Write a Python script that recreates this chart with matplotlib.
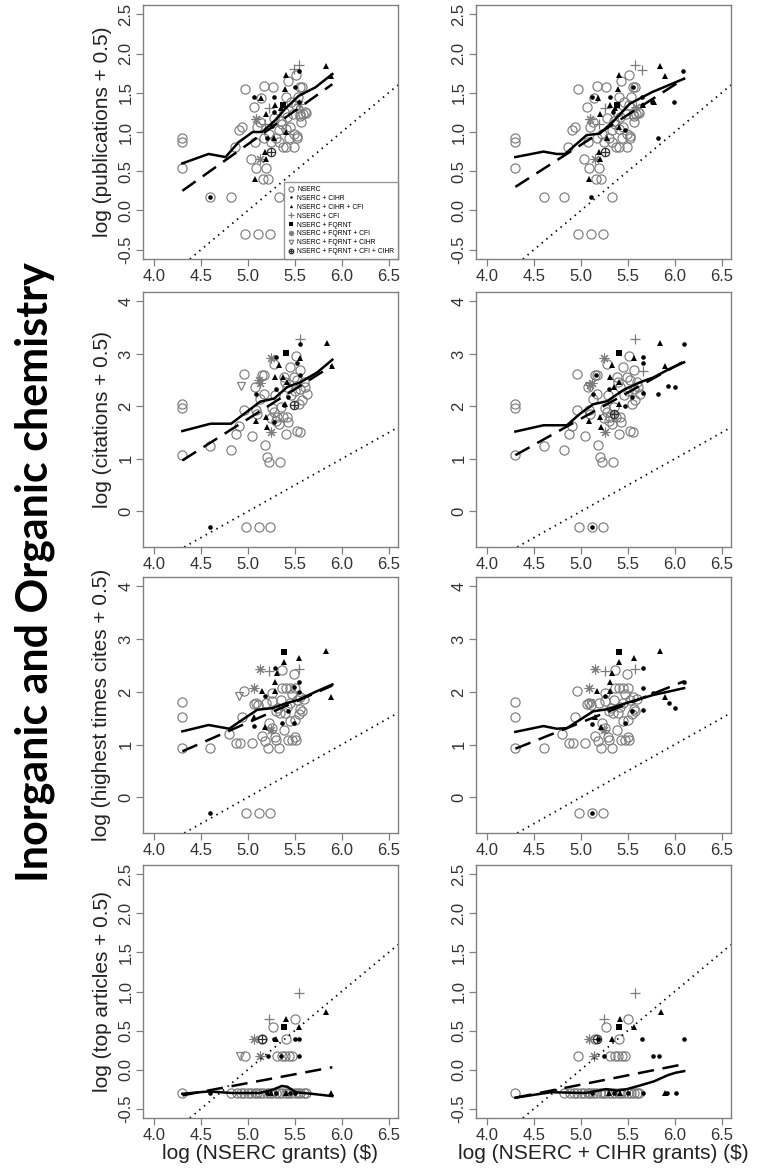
import matplotlib
matplotlib.use('Agg')
import matplotlib.pyplot as plt
from matplotlib.lines import Line2D

plt.rcParams['font.family'] = ['Liberation Sans', 'DejaVu Sans']

# ---------------- data ----------------
group_labels = ['NSERC', 'NSERC + CIHR', 'NSERC + CIHR + CFI', 'NSERC + CFI',
                'NSERC + FQRNT', 'NSERC + FQRNT + CFI', 'NSERC + FQRNT + CIHR',
                'NSERC + FQRNT + CFI + CIHR']
x_ticks = [4.0, 4.5, 5.0, 5.5, 6.0, 6.5]
x_ticklabels = ['4.0', '4.5', '5.0', '5.5', '6.0', '6.5']
y_ticks_small = [-0.5, 0.0, 0.5, 1.0, 1.5, 2.0, 2.5]
y_ticklabels_small = ['-0.5', '0.0', '0.5', '1.0', '1.5', '2.0', '2.5']
y_ticks_big = [0, 1, 2, 3, 4]
y_ticklabels_big = ['0', '1', '2', '3', '4']
row_ylabels = ['log (publications + 0.5)', 'log (citations + 0.5)',
               'log (highest times cites + 0.5)', 'log (top articles + 0.5)']
col_xlabels = ['log (NSERC grants) ($)', 'log (NSERC + CIHR grants) ($)']
side_title = 'Inorganic and Organic chemistry'
ref_intercept = -5.0   # dotted reference line y = x - 5
ref_slope = 1.0

# ---- row 1: publications ----
pub_circ = [(4.3, 0.929), (4.3, 0.875), (4.3, 0.544), (4.6, 0.176), (4.82, 0.176), (4.97, -0.301),
            (5.11, -0.301), (5.23, -0.301), (4.97, 1.544), (4.86, 0.813), (4.9, 1.021), (4.94, 1.061),
            (5.03, 0.653), (5.06, 1.322), (5.07, 0.875), (5.08, 0.544), (5.19, 0.544), (5.16, 0.398),
            (5.21, 0.398), (5.1, 1.061), (5.17, 1.585), (5.14, 1.431), (5.13, 1.130), (5.27, 1.568),
            (5.33, 0.176), (5.37, 0.813), (5.4, 0.813), (5.49, 0.813), (5.41, 1.447), (5.43, 1.653),
            (5.51, 1.732), (5.53, 1.447), (5.55, 1.580), (5.58, 1.580), (5.51, 1.342), (5.55, 1.230),
            (5.61, 1.250), (5.57, 1.130), (5.49, 0.978), (5.52, 0.954), (5.52, 0.929), (5.44, 0.929),
            (5.3, 0.929), (5.33, 0.875), (5.24, 0.875), (5.28, 1.176), (5.35, 1.146), (5.38, 1.250),
            (5.42, 1.190), (5.45, 1.061), (5.4, 1.041), (5.33, 1.021), (5.22, 0.978), (5.17, 0.929),
            (5.46, 1.380), (5.48, 1.230), (5.36, 1.100), (5.56, 1.205), (5.59, 1.230), (5.62, 1.243)]
pub_L_cihr = [(4.6, 0.176), (5.06, 1.447), (5.28, 1.447), (5.28, 1.25), (5.2, 0.929), (5.26, 1.08),
              (5.37, 1.342), (5.5, 1.568), (5.54, 1.78), (5.54, 1.38)]
pub_R_cihr = [(5.11, 0.176), (5.12, 1.447), (5.34, 1.25), (5.55, 1.568), (5.65, 1.447), (5.65, 1.342),
              (5.76, 1.38), (5.82, 0.929), (5.99, 1.38), (6.09, 1.78), (5.47, 1.02), (5.31, 1.447)]
pub_L_tri = [(5.07, 0.398), (5.18, 0.74), (5.19, 0.653), (5.19, 1.23), (5.29, 1.342), (5.4, 1.732),
             (5.39, 1.544), (5.83, 1.845), (5.89, 1.72), (5.28, 0.929), (5.35, 1.301), (5.4, 1.0),
             (5.14, 1.431)]
pub_R_tri = [(5.08, 0.398), (5.19, 0.74), (5.2, 0.653), (5.2, 1.23), (5.31, 1.342), (5.4, 1.732),
             (5.39, 1.544), (5.84, 1.845), (5.9, 1.72), (5.28, 0.929), (5.36, 1.301), (5.41, 1.06),
             (5.18, 1.431), (5.66, 1.342), (5.78, 1.38)]
pub_L_plus = [(5.22, 1.30), (5.09, 1.17), (5.18, 1.10), (5.49, 1.80), (5.54, 1.86)]
pub_R_plus = [(5.26, 1.30), (5.10, 1.17), (5.19, 1.10), (5.58, 1.86), (5.65, 1.79)]
pub_L_sq = [(5.37, 1.34)]
pub_R_sq = [(5.38, 1.34)]
pub_L_ast = [(5.13, 0.653), (5.54, 1.36), (5.09, 1.17)]
pub_R_ast = [(5.15, 0.653), (5.10, 1.17), (5.59, 1.32)]
pub_L_dtri = []
pub_R_dtri = []
pub_L_all = [(5.24, 0.74)]
pub_R_all = [(5.26, 0.74)]
pub_L_smooth_x = [4.3, 4.58, 4.76, 4.9, 5.05, 5.15, 5.29, 5.4, 5.54, 5.72, 5.9]
pub_L_smooth_y = [0.60, 0.72, 0.68, 0.87, 1.0, 1.0, 1.15, 1.30, 1.46, 1.57, 1.74]
pub_L_fit_x = [4.3, 5.9]
pub_L_fit_y = [0.25, 1.61]
pub_R_smooth_x = [4.3, 4.6, 4.74, 4.83, 5.06, 5.2, 5.34, 5.52, 5.76, 6.1]
pub_R_smooth_y = [0.68, 0.75, 0.72, 0.72, 0.96, 0.98, 1.13, 1.36, 1.51, 1.68]
pub_R_fit_x = [4.3, 6.1]
pub_R_fit_y = [0.30, 1.68]

# ---- row 2: citations ----
cit_circ = [(4.3, 2.05), (4.3, 1.96), (4.3, 1.07), (4.6, 1.25), (4.82, 1.17), (4.87, 1.47), (4.9, 1.63),
            (4.96, 2.61), (4.96, 1.93), (5.04, 1.43), (5.07, 2.36), (5.09, 1.93), (5.10, 1.85),
            (5.13, 2.15), (5.15, 2.59), (5.17, 2.59), (5.17, 2.24), (5.18, 1.26), (5.2, 1.04),
            (5.22, 0.94), (5.26, 1.96), (5.24, 1.77), (5.28, 2.81), (5.29, 2.21), (5.31, 1.80),
            (5.33, 1.66), (5.34, 0.94), (5.37, 1.80), (5.38, 2.56), (5.39, 2.46), (5.42, 2.37),
            (5.42, 1.80), (5.43, 1.71), (5.45, 2.75), (5.46, 2.21), (5.41, 1.48), (5.49, 2.56),
            (5.51, 2.96), (5.52, 2.5), (5.52, 1.53), (5.56, 2.69), (5.54, 2.05), (5.56, 2.34),
            (5.58, 2.12), (5.6, 2.46), (5.61, 2.37), (5.63, 2.23), (5.55, 1.52), (5.28, 1.9),
            (5.35, 1.99), (4.98, -0.301), (5.12, -0.301), (5.23, -0.301), (5.3, 1.72), (5.5, 2.3)]
cit_L_cihr = [(4.6, -0.301), (5.09, 2.24), (5.3, 2.95), (5.3, 2.34), (5.52, 2.82), (5.56, 3.19),
              (5.56, 2.59), (5.43, 2.18), (5.40, 3.03), (5.28, 1.71), (5.38, 2.03)]
cit_R_cihr = [(5.12, -0.301), (5.13, 2.23), (5.16, 2.59), (5.41, 3.03), (5.47, 2.0), (5.54, 2.18),
              (5.66, 2.94), (5.66, 2.82), (5.66, 2.25), (5.82, 2.23), (5.93, 2.38), (6.0, 2.37),
              (6.1, 3.19), (5.30, 2.34)]
cit_L_tri = [(5.08, 1.73), (5.19, 1.80), (5.2, 1.61), (5.29, 2.56), (5.33, 2.78), (5.42, 2.46),
             (5.56, 2.93), (5.84, 3.2), (5.9, 2.77), (5.37, 2.56), (5.39, 2.04)]
cit_R_tri = [(5.08, 1.73), (5.2, 1.80), (5.21, 1.61), (5.31, 2.56), (5.33, 2.78), (5.41, 2.46),
             (5.56, 2.93), (5.84, 3.2), (5.9, 2.77), (5.35, 2.36), (5.41, 2.04)]
cit_L_plus = [(5.56, 3.29)]
cit_R_plus = [(5.58, 3.29), (5.66, 2.67)]
cit_L_sq = [(5.40, 3.02)]
cit_R_sq = [(5.41, 3.02)]
cit_L_ast = [(5.24, 2.92), (5.12, 2.5), (5.25, 1.52), (5.13, 2.45)]
cit_R_ast = [(5.25, 2.92), (5.12, 2.45), (5.26, 1.52), (5.1, 2.4)]
cit_L_dtri = [(4.92, 2.38)]
cit_R_dtri = [(5.08, 2.38)]
cit_L_all = [(5.49, 2.03)]
cit_R_all = [(5.35, 1.86)]
cit_L_smooth_x = [4.3, 4.6, 4.82, 4.99, 5.13, 5.28, 5.42, 5.56, 5.74, 5.9]
cit_L_smooth_y = [1.53, 1.67, 1.67, 1.90, 2.09, 2.15, 2.37, 2.46, 2.65, 2.89]
cit_L_fit_x = [4.3, 5.9]
cit_L_fit_y = [0.97, 2.78]
cit_R_smooth_x = [4.3, 4.6, 4.85, 4.99, 5.13, 5.28, 5.45, 5.63, 5.77, 5.95, 6.1]
cit_R_smooth_y = [1.52, 1.64, 1.64, 1.86, 2.04, 2.10, 2.31, 2.46, 2.55, 2.72, 2.84]
cit_R_fit_x = [4.3, 6.1]
cit_R_fit_y = [1.07, 2.86]

# ---- row 3: highest times cited ----
hi_circ = [(4.3, 1.81), (4.3, 1.52), (4.3, 0.93), (4.6, 0.93), (4.8, 1.19), (4.87, 1.02), (4.91, 1.02),
           (4.96, 2.02), (4.94, 1.52), (5.04, 1.02), (5.06, 1.76), (5.08, 1.79), (5.11, 1.75),
           (5.15, 1.17), (5.18, 1.06), (5.21, 0.93), (5.22, 1.41), (5.26, 1.31), (5.29, 1.15),
           (5.30, 1.09), (5.30, 1.63), (5.33, 0.93), (5.36, 2.42), (5.36, 2.07), (5.38, 1.28),
           (5.40, 2.07), (5.42, 1.72), (5.43, 1.09), (5.45, 2.07), (5.45, 1.44), (5.47, 1.09),
           (5.49, 2.34), (5.5, 1.15), (5.5, 1.47), (5.5, 2.07), (5.51, 1.09), (5.52, 1.85),
           (5.54, 1.57), (5.56, 1.67), (5.58, 1.63), (5.26, 1.83), (5.32, 1.70), (5.19, 1.79),
           (5.26, 1.97), (5.35, 1.85), (5.45, 1.79), (4.98, -0.301), (5.12, -0.301), (5.23, -0.301),
           (5.39, 1.60), (5.34, 1.60), (5.47, 1.95), (5.55, 1.90), (5.6, 1.86)]
hi_L_cihr = [(4.6, -0.301), (5.06, 1.36), (5.18, 1.93), (5.29, 2.45), (5.36, 1.41), (5.43, 1.64),
             (5.49, 2.09), (5.54, 2.19), (5.54, 2.0), (5.49, 1.41)]
hi_R_cihr = [(5.12, -0.301), (5.12, 1.39), (5.66, 2.45), (5.66, 2.07), (5.66, 1.66), (5.77, 1.98),
             (5.94, 1.79), (6.0, 1.69), (6.1, 2.19), (5.47, 1.41), (5.54, 1.64), (5.26, 1.93)]
hi_L_tri = [(5.06, 1.53), (5.15, 2.02), (5.18, 1.33), (5.29, 2.19), (5.29, 2.02), (5.31, 2.36),
            (5.38, 2.56), (5.54, 2.64), (5.83, 2.77), (5.89, 1.90)]
hi_R_tri = [(5.17, 2.02), (5.21, 1.33), (5.31, 2.19), (5.31, 2.02), (5.33, 2.36), (5.41, 2.56),
            (5.56, 2.64), (5.84, 2.77), (5.9, 1.91), (5.15, 1.53)]
hi_L_plus = [(5.22, 2.40), (5.54, 2.44)]
hi_R_plus = [(5.26, 2.40), (5.58, 2.44)]
hi_L_sq = [(5.38, 2.75)]
hi_R_sq = [(5.40, 2.75)]
hi_L_ast = [(5.13, 2.44), (5.06, 2.07), (5.24, 1.27)]
hi_R_ast = [(5.15, 2.44), (5.09, 2.07), (5.25, 1.27)]
hi_L_dtri = [(4.90, 1.93)]
hi_R_dtri = [(5.10, 1.78)]
hi_L_all = []
hi_R_all = []
hi_L_smooth_x = [4.3, 4.58, 4.8, 4.94, 5.1, 5.26, 5.4, 5.54, 5.72, 5.9]
hi_L_smooth_y = [1.25, 1.37, 1.30, 1.47, 1.66, 1.69, 1.78, 1.85, 2.0, 2.14]
hi_L_fit_x = [4.3, 5.9]
hi_L_fit_y = [0.87, 2.12]
hi_R_smooth_x = [4.3, 4.6, 4.74, 4.85, 4.99, 5.13, 5.28, 5.49, 5.77, 6.1]
hi_R_smooth_y = [1.24, 1.35, 1.30, 1.31, 1.47, 1.63, 1.67, 1.79, 1.94, 2.07]
hi_R_fit_x = [4.3, 6.1]
hi_R_fit_y = [0.92, 2.20]

# ---- row 4: top articles ----
top_circ = [(4.3, -0.301), (4.82, -0.301), (4.88, -0.301), (4.92, -0.301), (4.96, -0.301),
            (5.0, -0.301), (5.03, -0.301), (5.07, -0.301), (5.1, -0.301), (5.13, -0.301),
            (5.16, -0.301), (5.2, -0.301), (5.23, -0.301), (5.26, -0.301), (5.3, -0.301),
            (5.33, -0.301), (5.36, -0.301), (5.4, -0.301), (5.43, -0.301), (5.46, -0.301),
            (5.5, -0.301), (5.53, -0.301), (5.56, -0.301), (5.6, -0.301), (5.62, -0.301),
            (5.27, 0.544), (5.5, 0.653), (5.41, 0.398), (4.97, 0.176), (5.15, 0.398),
            (5.31, 0.176), (5.36, 0.176), (5.39, 0.176), (5.44, 0.176), (5.47, 0.176)]
top_L_cihr = [(4.6, -0.301), (5.28, 0.398), (5.5, 0.398), (5.54, 0.398), (5.21, 0.176), (5.54, 0.176),
              (5.3, -0.301), (5.45, -0.301), (5.5, -0.301), (5.2, -0.301), (5.35, 0.176)]
top_R_cihr = [(5.12, -0.301), (5.65, 0.398), (6.1, 0.398), (5.77, 0.176), (5.83, 0.176), (5.92, -0.301),
              (6.01, -0.301), (5.66, -0.301), (5.35, -0.301), (5.5, -0.301), (5.25, 0.176), (5.18, 0.398)]
top_L_tri = [(5.4, 0.653), (5.54, 0.544), (5.83, 0.74), (5.89, -0.301), (5.3, 0.398), (5.4, -0.301),
             (5.25, -0.301)]
top_R_tri = [(5.42, 0.653), (5.56, 0.544), (5.85, 0.74), (5.9, -0.301), (5.33, 0.398), (5.42, -0.301),
             (5.3, -0.301)]
top_L_plus = [(5.22, 0.653), (5.54, 0.978)]
top_R_plus = [(5.25, 0.653), (5.58, 0.978)]
top_L_sq = [(5.38, 0.544)]
top_R_sq = [(5.40, 0.544)]
top_L_ast = [(5.06, 0.398), (5.13, 0.176)]
top_R_ast = [(5.09, 0.398), (5.14, 0.176)]
top_L_dtri = [(4.91, 0.176)]
top_R_dtri = []
top_L_all = [(5.15, 0.398)]
top_R_all = [(5.17, 0.398)]
top_L_smooth_x = [4.3, 4.58, 4.83, 5.12, 5.26, 5.36, 5.42, 5.51, 5.68, 5.9]
top_L_smooth_y = [-0.31, -0.28, -0.30, -0.30, -0.26, -0.21, -0.22, -0.29, -0.31, -0.34]
top_L_fit_x = [4.3, 5.9]
top_L_fit_y = [-0.33, 0.03]
top_R_smooth_x = [4.3, 4.68, 5.05, 5.27, 5.38, 5.49, 5.64, 5.78, 5.93, 6.01, 6.1]
top_R_smooth_y = [-0.36, -0.29, -0.30, -0.25, -0.27, -0.25, -0.20, -0.15, -0.07, -0.04, -0.02]
top_R_fit_x = [4.3, 6.1]
top_R_fit_y = [-0.36, 0.07]

# ---------------- styles ----------------
GRAY = '#7c7c7c'
DARK = '#303030'
FRAME = '#808080'
st_circ = dict(marker='o', mfc='none', mec=GRAY, ms=6.6, mew=0.85, ls='none')
st_cihr = dict(marker='o', mfc='black', mec='black', ms=3.3, mew=0, ls='none')
st_tri = dict(marker='^', mfc='black', mec='black', ms=4.3, mew=0, ls='none')
st_plus = dict(marker='+', color=GRAY, ms=7.5, mew=0.9, ls='none')
st_sq = dict(marker='s', mfc='black', mec='black', ms=4.0, mew=0, ls='none')
st_ast = dict(marker=(8, 2, 0), color=GRAY, ms=7.0, mew=0.8, ls='none')
st_dtri = dict(marker='v', mfc='none', mec=GRAY, ms=6.0, mew=0.85, ls='none')
st_all_o = dict(marker='o', mfc='none', mec=DARK, ms=6.0, mew=0.9, ls='none')
st_all_p = dict(marker='+', color=DARK, ms=6.0, mew=0.9, ls='none')

W, H = 763, 1171
fig = plt.figure(figsize=(W / 100, H / 100), dpi=100)

col_x0 = [143 / W, 476 / W]
col_w = 255 / W
rows_px = [(5, 259), (292, 547), (577, 833), (865, 1118)]
row_ylims = [(-0.62, 2.62), (-0.68, 4.18), (-0.68, 4.18), (-0.62, 2.62)]
row_small = [True, False, False, True]

rows_data = [
    ('pub', pub_circ, [pub_L_cihr, pub_R_cihr], [pub_L_tri, pub_R_tri], [pub_L_plus, pub_R_plus],
     [pub_L_sq, pub_R_sq], [pub_L_ast, pub_R_ast], [pub_L_dtri, pub_R_dtri], [pub_L_all, pub_R_all],
     [(pub_L_smooth_x, pub_L_smooth_y), (pub_R_smooth_x, pub_R_smooth_y)],
     [(pub_L_fit_x, pub_L_fit_y), (pub_R_fit_x, pub_R_fit_y)]),
    ('cit', cit_circ, [cit_L_cihr, cit_R_cihr], [cit_L_tri, cit_R_tri], [cit_L_plus, cit_R_plus],
     [cit_L_sq, cit_R_sq], [cit_L_ast, cit_R_ast], [cit_L_dtri, cit_R_dtri], [cit_L_all, cit_R_all],
     [(cit_L_smooth_x, cit_L_smooth_y), (cit_R_smooth_x, cit_R_smooth_y)],
     [(cit_L_fit_x, cit_L_fit_y), (cit_R_fit_x, cit_R_fit_y)]),
    ('hi', hi_circ, [hi_L_cihr, hi_R_cihr], [hi_L_tri, hi_R_tri], [hi_L_plus, hi_R_plus],
     [hi_L_sq, hi_R_sq], [hi_L_ast, hi_R_ast], [hi_L_dtri, hi_R_dtri], [hi_L_all, hi_R_all],
     [(hi_L_smooth_x, hi_L_smooth_y), (hi_R_smooth_x, hi_R_smooth_y)],
     [(hi_L_fit_x, hi_L_fit_y), (hi_R_fit_x, hi_R_fit_y)]),
    ('top', top_circ, [top_L_cihr, top_R_cihr], [top_L_tri, top_R_tri], [top_L_plus, top_R_plus],
     [top_L_sq, top_R_sq], [top_L_ast, top_R_ast], [top_L_dtri, top_R_dtri], [top_L_all, top_R_all],
     [(top_L_smooth_x, top_L_smooth_y), (top_R_smooth_x, top_R_smooth_y)],
     [(top_L_fit_x, top_L_fit_y), (top_R_fit_x, top_R_fit_y)]),
]


def scatter(ax, pts, style):
    if not pts:
        return
    ax.plot([p[0] for p in pts], [p[1] for p in pts], **style)


for r, (name, circ, cihr, tri, plus, sq, ast, dtri, allg, smooth, fit) in enumerate(rows_data):
    top, bot = rows_px[r]
    for c in range(2):
        ax = fig.add_axes([col_x0[c], 1 - bot / H, col_w, (bot - top) / H])
        ax.set_xlim(3.88, 6.6)
        ax.set_ylim(*row_ylims[r])
        scatter(ax, circ, st_circ)
        scatter(ax, dtri[c], st_dtri)
        scatter(ax, plus[c], st_plus)
        scatter(ax, ast[c], st_ast)
        scatter(ax, allg[c], st_all_o)
        scatter(ax, allg[c], st_all_p)
        scatter(ax, cihr[c], st_cihr)
        scatter(ax, tri[c], st_tri)
        scatter(ax, sq[c], st_sq)
        ax.plot(smooth[c][0], smooth[c][1], color='black', lw=1.8, solid_joinstyle='round')
        ax.plot(fit[c][0], fit[c][1], color='black', lw=1.8, dashes=(6.5, 3.5))
        ax.axline((0, ref_intercept), slope=ref_slope, color='black', lw=1.3, ls=(0, (0.8, 2.6)))
        ax.set_xticks(x_ticks)
        ax.set_xticklabels(x_ticklabels)
        if row_small[r]:
            ax.set_yticks(y_ticks_small)
            ax.set_yticklabels(y_ticklabels_small)
        else:
            ax.set_yticks(y_ticks_big)
            ax.set_yticklabels(y_ticklabels_big)
        for sp in ax.spines.values():
            sp.set_color(FRAME)
            sp.set_linewidth(1.0)
        ax.tick_params(axis='both', color=FRAME, labelcolor='#333333', length=5, width=0.9,
                       labelsize=12, pad=2)
        ax.tick_params(axis='y', labelrotation=90)
        for lab in ax.get_yticklabels():
            lab.set_va('center')
        if r == 3:
            ax.set_xlabel(col_xlabels[c], fontsize=15, color='#222222', labelpad=1)
        if r == 0 and c == 0:
            handles = [Line2D([], [], **st_circ), Line2D([], [], **st_cihr), Line2D([], [], **st_tri),
                       Line2D([], [], **st_plus), Line2D([], [], **st_sq), Line2D([], [], **st_ast),
                       Line2D([], [], **st_dtri),
                       (Line2D([], [], **st_all_o), Line2D([], [], **st_all_p))]
            leg = ax.legend(handles, group_labels, loc='lower right', bbox_to_anchor=(1, 0),
                            borderaxespad=0, fontsize=4.9, frameon=True, fancybox=False,
                            edgecolor=FRAME, handlelength=0.9, handletextpad=0.5,
                            labelspacing=0.28, borderpad=0.55, markerscale=0.55)
            leg.get_frame().set_linewidth(1.0)
    fig.text(102 / W, 1 - (top + bot) / 2 / H, row_ylabels[r], rotation=90, ha='center', va='center',
             fontsize=15, color='#222222')

fig.text(35 / W, 1 - 572 / H, side_title, rotation=90, ha='center', va='center', fontsize=31,
         fontweight='bold', family=['Lato', 'DejaVu Sans'], color='black')

fig.savefig('out.png', dpi=100)
